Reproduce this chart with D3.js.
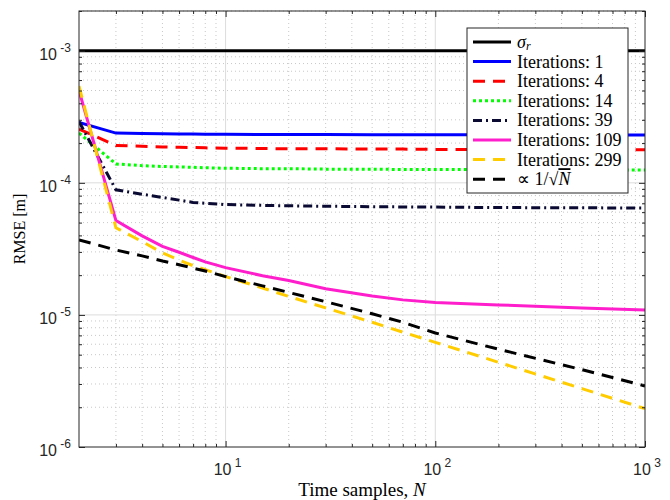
<!DOCTYPE html>
<html>
<head>
<meta charset="utf-8">
<script src="https://cdn.jsdelivr.net/npm/d3@7"></script>
<style>
  body { margin: 0; background: #fff; }
  svg { display: block; }
</style>
</head>
<body>
<script>
// sample points along the time axis
const samples = [2, 3, 4, 5, 6, 7, 8, 10, 15, 20, 30, 50, 70, 100, 200, 500, 1000];

// RMSE values
const sigmaR   = [1e-3, 1e-3, 1e-3, 1e-3, 1e-3, 1e-3, 1e-3, 1e-3, 1e-3, 1e-3, 1e-3, 1e-3, 1e-3, 1e-3, 1e-3, 1e-3, 1e-3];
const iter1    = [2.86e-4, 2.38e-4, 2.36e-4, 2.35e-4, 2.34e-4, 2.34e-4, 2.33e-4, 2.33e-4, 2.32e-4, 2.32e-4, 2.32e-4, 2.31e-4, 2.31e-4, 2.31e-4, 2.31e-4, 2.3e-4, 2.3e-4];
const iter4    = [2.55e-4, 1.92e-4, 1.89e-4, 1.87e-4, 1.86e-4, 1.85e-4, 1.84e-4, 1.83e-4, 1.82e-4, 1.81e-4, 1.81e-4, 1.8e-4, 1.8e-4, 1.79e-4, 1.79e-4, 1.78e-4, 1.78e-4];
const iter14   = [2.38e-4, 1.39e-4, 1.35e-4, 1.33e-4, 1.32e-4, 1.31e-4, 1.3e-4, 1.29e-4, 1.28e-4, 1.28e-4, 1.27e-4, 1.27e-4, 1.26e-4, 1.26e-4, 1.26e-4, 1.25e-4, 1.25e-4];
const iter39   = [2.91e-4, 8.85e-5, 8.2e-5, 7.75e-5, 7.4e-5, 7.1e-5, 7.0e-5, 6.85e-5, 6.75e-5, 6.7e-5, 6.65e-5, 6.6e-5, 6.57e-5, 6.55e-5, 6.5e-5, 6.47e-5, 6.45e-5];
const iter109  = [5.0e-4, 5.18e-5, 3.97e-5, 3.3e-5, 2.98e-5, 2.72e-5, 2.52e-5, 2.28e-5, 1.98e-5, 1.82e-5, 1.58e-5, 1.39e-5, 1.3e-5, 1.24e-5, 1.19e-5, 1.13e-5, 1.09e-5];
const iter299  = [5.4e-4, 4.57e-5, 3.59e-5, 2.95e-5, 2.6e-5, 2.36e-5, 2.2e-5, 1.95e-5, 1.6e-5, 1.38e-5, 1.13e-5, 8.8e-6, 7.4e-6, 6.2e-6, 4.38e-6, 2.77e-6, 1.95e-6];
const invSqrtN = [3.7e-5, 3.1e-5, 2.8e-5, 2.56e-5, 2.4e-5, 2.26e-5, 2.15e-5, 1.95e-5, 1.66e-5, 1.48e-5, 1.26e-5, 1.02e-5, 8.8e-6, 7.3e-6, 5.5e-6, 3.85e-6, 2.9e-6];

const seriesNames = ["sigma", "Iterations: 1", "Iterations: 4", "Iterations: 14", "Iterations: 39", "Iterations: 109", "Iterations: 299", "sqrt"];
const seriesValues = [sigmaR, iter1, iter4, iter14, iter39, iter109, iter299, invSqrtN];

const xTicks = [10, 100, 1000];
const yTicks = [1e-6, 1e-5, 1e-4, 1e-3];

// styles for each series
const styles = [
    { color: "#000000", dash: null },
    { color: "#0000ff", dash: null },
    { color: "#ff0000", dash: "12,8" },
    { color: "#00ff00", dash: "3,3" },
    { color: "#0a0a33", dash: "9,4,2,4" },
    { color: "#ff1ecb", dash: null },
    { color: "#ffcc00", dash: "12,8" },
    { color: "#000000", dash: "12,8" }
];

const W = 670, H = 500;
const margin = { top: 11, right: 25, bottom: 53, left: 79 };
const width = W - margin.left - margin.right;
const height = H - margin.top - margin.bottom;

const svg = d3.select("body").append("svg")
    .attr("width", W)
    .attr("height", H);

const x = d3.scaleLog().domain([2, 1000]).range([0, width]);
const y = d3.scaleLog().domain([1e-6, 2e-3]).range([height, 0]);

const g = svg.append("g")
    .attr("transform", "translate(" + margin.left + "," + margin.top + ")");

// minor / major tick positions
const xMinor = [];
[1, 10, 100].forEach(d => { for (let k = 2; k <= 9; k++) { const v = d * k; if (v > 2 && v < 1000 && v !== 10 && v !== 100) xMinor.push(v); } });
const yMinor = [];
[1e-6, 1e-5, 1e-4, 1e-3].forEach(d => { for (let k = 2; k <= 9; k++) { const v = d * k; if (v <= 2e-3) yMinor.push(v); } });

// grid
g.selectAll(".xminor").data(xMinor).enter().append("line")
    .attr("x1", d => x(d)).attr("x2", d => x(d))
    .attr("y1", 0).attr("y2", height)
    .style("stroke", "#c8c8c8").style("stroke-width", 1).style("stroke-dasharray", "1,3");
g.selectAll(".yminor").data(yMinor).enter().append("line")
    .attr("x1", 0).attr("x2", width)
    .attr("y1", d => y(d)).attr("y2", d => y(d))
    .style("stroke", "#c8c8c8").style("stroke-width", 1).style("stroke-dasharray", "1,3");
g.selectAll(".xmajor").data(xTicks.slice(0, 2)).enter().append("line")
    .attr("x1", d => x(d)).attr("x2", d => x(d))
    .attr("y1", 0).attr("y2", height)
    .style("stroke", "#dcdcdc").style("stroke-width", 1);
g.selectAll(".ymajor").data(yTicks.slice(1)).enter().append("line")
    .attr("x1", 0).attr("x2", width)
    .attr("y1", d => y(d)).attr("y2", d => y(d))
    .style("stroke", "#dcdcdc").style("stroke-width", 1);

// clip
svg.append("clipPath").attr("id", "clip")
    .append("rect").attr("width", width).attr("height", height);

const line = d3.line()
    .x(d => x(d[0]))
    .y(d => y(d[1]));

const lines = g.append("g").attr("clip-path", "url(#clip)");
seriesValues.forEach((vals, i) => {
    lines.append("path")
        .datum(samples.map((n, j) => [n, vals[j]]))
        .attr("d", line)
        .style("fill", "none")
        .style("stroke", styles[i].color)
        .style("stroke-width", 3)
        .style("stroke-dasharray", styles[i].dash);
});

// axes box with inward ticks on all sides
const tickColor = "#262626";
g.append("rect")
    .attr("width", width).attr("height", height)
    .style("fill", "none").style("stroke", tickColor).style("stroke-width", 1);

const axisB = d3.axisBottom(x).tickValues(xTicks).tickSize(-6).tickFormat("");
const axisT = d3.axisTop(x).tickValues(xTicks).tickSize(-6).tickFormat("");
const axisBm = d3.axisBottom(x).tickValues(xMinor).tickSize(-3).tickFormat("");
const axisTm = d3.axisTop(x).tickValues(xMinor).tickSize(-3).tickFormat("");
const axisL = d3.axisLeft(y).tickValues(yTicks).tickSize(-6).tickFormat("");
const axisR = d3.axisRight(y).tickValues(yTicks).tickSize(-6).tickFormat("");
const axisLm = d3.axisLeft(y).tickValues(yMinor).tickSize(-3).tickFormat("");
const axisRm = d3.axisRight(y).tickValues(yMinor).tickSize(-3).tickFormat("");

[[axisB, "0," + height], [axisBm, "0," + height], [axisT, "0,0"], [axisTm, "0,0"],
 [axisL, "0,0"], [axisLm, "0,0"], [axisR, width + ",0"], [axisRm, width + ",0"]].forEach(a => {
    const ax = g.append("g").attr("transform", "translate(" + a[1] + ")").call(a[0]);
    ax.select(".domain").remove();
    ax.selectAll("line").style("stroke", tickColor);
});

// tick labels
const tickFont = "'Liberation Sans', Arial, sans-serif";
yTicks.forEach(v => {
    const t = g.append("text")
        .attr("x", -8)
        .attr("y", y(v) + 9)
        .attr("text-anchor", "end")
        .style("font-family", tickFont)
        .style("font-size", "16px")
        .style("fill", "#262626");
    t.append("tspan").text("10");
    t.append("tspan").attr("dy", -8).style("font-size", "12px").text(" " + Math.round(Math.log10(v)));
});
xTicks.forEach(v => {
    const t = g.append("text")
        .attr("x", x(v) + 2)
        .attr("y", height + 28)
        .attr("text-anchor", "middle")
        .style("font-family", tickFont)
        .style("font-size", "16px")
        .style("fill", "#262626");
    t.append("tspan").text("10");
    t.append("tspan").attr("dy", -8).style("font-size", "12px").text(" " + Math.round(Math.log10(v)));
});

// axis labels
const serif = "'Liberation Serif', 'Times New Roman', serif";
const xl = svg.append("text")
    .attr("x", margin.left + width / 2)
    .attr("y", 496)
    .attr("text-anchor", "middle")
    .style("font-family", serif)
    .style("font-size", "19px");
xl.append("tspan").text("Time samples, ");
xl.append("tspan").style("font-style", "italic").text("N");

svg.append("text")
    .attr("transform", "translate(25," + (margin.top + height / 2) + ") rotate(-90)")
    .attr("text-anchor", "middle")
    .style("font-family", serif)
    .style("font-size", "16px")
    .text("RMSE [m]");

// legend
const legend = svg.append("g").attr("transform", "translate(467,28)");
legend.append("rect")
    .attr("width", 161).attr("height", 165)
    .style("fill", "#fff").style("stroke", tickColor).style("stroke-width", 1);

seriesNames.forEach((name, i) => {
    const yy = 14 + i * 19.6;
    legend.append("line")
        .attr("x1", 6).attr("x2", 44)
        .attr("y1", yy).attr("y2", yy)
        .style("stroke", styles[i].color)
        .style("stroke-width", 3)
        .style("stroke-dasharray", styles[i].dash);
    const t = legend.append("text")
        .attr("x", 50)
        .attr("y", yy + 6)
        .style("font-family", serif)
        .style("font-size", "18px");
    if (name === "sigma") {
        t.append("tspan").style("font-style", "italic").text("σ");
        t.append("tspan").attr("dy", 2).style("font-style", "italic").style("font-size", "12px").text("r");
    } else if (name === "sqrt") {
        t.append("tspan").text("∝ 1/√");
        t.append("tspan").style("font-style", "italic").style("text-decoration", "overline").text("N");
    } else {
        t.text(name);
    }
});
</script>
</body>
</html>
